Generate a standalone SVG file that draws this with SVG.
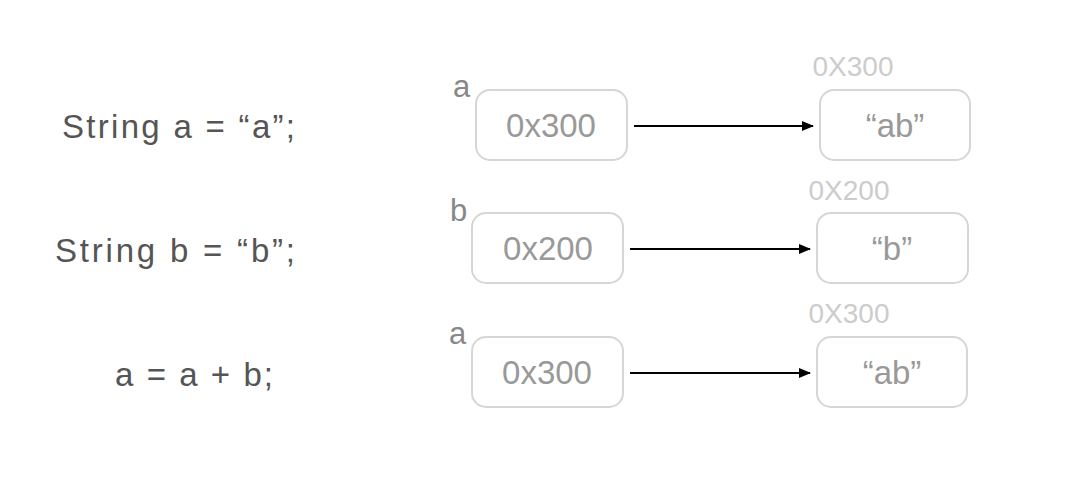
<svg xmlns="http://www.w3.org/2000/svg" width="1068" height="482" viewBox="0 0 1068 482">
<style>
.box{fill:#fff;stroke:#d6d6d6;stroke-width:2}
.code{font-family:"Liberation Sans",Arial,sans-serif;font-size:33px;fill:#555}
.val{font-family:"Liberation Sans",Arial,sans-serif;font-size:33px;fill:#999;text-anchor:middle}
.lbl{font-family:"Liberation Sans",Arial,sans-serif;font-size:31px;fill:#888}
.addr{font-family:"Liberation Sans",Arial,sans-serif;font-size:28px;fill:#ccc;text-anchor:middle}
.c{stroke:#000;stroke-width:2;fill:none;marker-end:url(#ah)}
</style>
<defs><marker id="ah" markerWidth="12" markerHeight="10" refX="11" refY="5" orient="auto" markerUnits="userSpaceOnUse"><path d="M0,0 L12,5 L0,10 z" fill="#000"/></marker></defs>
<rect width="1068" height="482" fill="#fff"/>
<g id="code"><text class="code" x="62" y="138" textLength="233" lengthAdjust="spacing">String a = “a”;</text><text class="code" x="55" y="262" textLength="240" lengthAdjust="spacing">String b = “b”;</text><text class="code" x="115" y="386" textLength="158" lengthAdjust="spacing">a = a + b;</text></g>
<g id="n1"><text class="lbl" x="453" y="97">a</text><rect class="box" x="476" y="90" width="151" height="70" rx="14"/><text class="val" x="551" y="137">0x300</text></g>
<g id="n2"><text class="addr" x="853" y="76">0X300</text><rect class="box" x="820" y="90" width="150" height="70" rx="14"/><text class="val" x="895" y="137">“ab”</text></g>
<g id="n3"><text class="lbl" x="450" y="221">b</text><rect class="box" x="472" y="213" width="151" height="70" rx="14"/><text class="val" x="548" y="260">0x200</text></g>
<g id="n4"><text class="addr" x="849" y="200">0X200</text><rect class="box" x="817" y="213" width="151" height="70" rx="14"/><text class="val" x="892" y="260">“b”</text></g>
<g id="n5"><text class="lbl" x="449" y="344">a</text><rect class="box" x="472" y="337" width="151" height="70" rx="14"/><text class="val" x="547" y="384">0x300</text></g>
<g id="n6"><text class="addr" x="849" y="323">0X300</text><rect class="box" x="817" y="337" width="150" height="70" rx="14"/><text class="val" x="892" y="384">“ab”</text></g>
<g id="connectors"><path class="c" d="M634,126 L813,126"/><path class="c" d="M630,249 L810,249"/><path class="c" d="M630,373 L810,373"/></g>
</svg>
